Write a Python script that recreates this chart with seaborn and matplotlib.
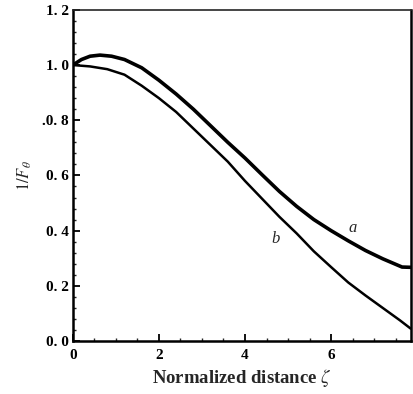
import matplotlib
matplotlib.use("Agg")
import matplotlib.pyplot as plt
from matplotlib.ticker import MultipleLocator
import seaborn as sns
import pandas as pd

x_a = [0, 0.2, 0.4, 0.63, 0.9, 1.2, 1.6, 2.0, 2.4, 2.8, 3.2, 3.6, 4.0, 4.4, 4.8,
       5.2, 5.6, 6.0, 6.4, 6.8, 7.2, 7.5, 7.65, 7.85]
y_a = [1.00, 1.02, 1.032, 1.036, 1.032, 1.02, 0.99, 0.945, 0.895, 0.84, 0.78, 0.72,
       0.663, 0.602, 0.542, 0.488, 0.44, 0.40, 0.363, 0.328, 0.298, 0.278,
       0.268, 0.267]
x_b = [0, 0.4, 0.8, 1.2, 1.6, 2.0, 2.4, 2.8, 3.2, 3.6, 4.0, 4.4, 4.8, 5.2, 5.6,
       6.0, 6.4, 6.8, 7.2, 7.6, 7.85]
y_b = [1.0, 0.995, 0.985, 0.965, 0.925, 0.88, 0.83, 0.77, 0.71, 0.65, 0.58, 0.515,
       0.45, 0.39, 0.325, 0.268, 0.212, 0.165, 0.12, 0.075, 0.045]

x_ticks = [0, 2, 4, 6]
x_ticklabels = ["0", "2", "4", "6"]
y_ticks = [0.0, 0.2, 0.4, 0.6, 0.8, 1.0, 1.2]
y_ticklabels = ["0. 0", "0. 2", "0. 4", "0. 6", ".0. 8", "1. 0", "1. 2"]

sns.set_style("ticks")
plt.rcParams["font.family"] = ["Liberation Serif", "DejaVu Serif"]
plt.rcParams["mathtext.fontset"] = "stix"

df_a = pd.DataFrame({"x": x_a, "y": y_a})
df_b = pd.DataFrame({"x": x_b, "y": y_b})

fig = plt.figure(figsize=(4.14, 3.94), dpi=100)
ax = fig.add_axes([0.176, 0.1345, 0.817, 0.8405])

sns.lineplot(data=df_a, x="x", y="y", ax=ax, color="black", linewidth=2.6, sort=False)
sns.lineplot(data=df_b, x="x", y="y", ax=ax, color="black", linewidth=1.8, sort=False)

ax.set_xlim(0, 7.86)
ax.set_ylim(0, 1.2)
ax.set_xticks(x_ticks)
ax.set_xticklabels(x_ticklabels, fontsize=11, fontweight="bold")
ax.set_yticks(y_ticks)
ax.set_yticklabels(y_ticklabels, fontsize=11, fontweight="bold")
ax.xaxis.set_minor_locator(MultipleLocator(0.5))
ax.yaxis.set_minor_locator(MultipleLocator(0.04))
ax.tick_params(which="major", direction="in", length=5, width=1.3, colors="black")
ax.tick_params(axis="x", which="major", pad=6)
ax.tick_params(axis="y", which="major", pad=3)
ax.tick_params(which="minor", direction="in", length=2.5, width=1.0)

for side in ["left", "bottom", "right"]:
    ax.spines[side].set_linewidth(1.8)
    ax.spines[side].set_color("black")
ax.spines["top"].set_linewidth(1.2)
ax.spines["top"].set_visible(True)
ax.spines["right"].set_visible(True)

ax.set_xlabel(r"Normalized distance $\zeta$", fontsize=13.5, fontweight="semibold", labelpad=3)
ax.set_ylabel(r"$1/F_{\theta}$", fontsize=12, labelpad=6)

ax.text(6.5, 0.41, "a", fontsize=12, style="italic", ha="center", va="center")
ax.text(4.7, 0.37, "b", fontsize=12, style="italic", ha="center", va="center")

fig.savefig("out.png", dpi=100)
